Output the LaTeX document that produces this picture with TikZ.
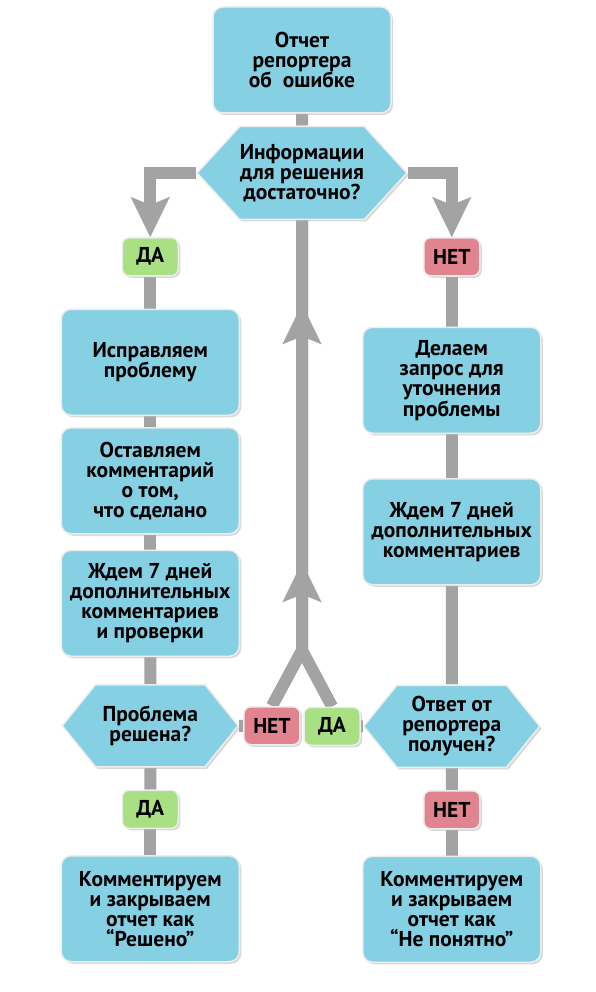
\documentclass[tikz,border=0pt]{standalone}
\usepackage{fontspec}
\setmainfont{PT Sans}
\usetikzlibrary{shapes.symbols, arrows.meta, positioning, calc, backgrounds, shadows, decorations.markings}

\definecolor{boxblue}{HTML}{86D0E3}
\definecolor{yesgreen}{HTML}{A8E083}
\definecolor{nored}{HTML}{E2848F}
\definecolor{linegray}{HTML}{A3A3A3}
\definecolor{rimgray}{HTML}{EDEDED}

\begin{document}
\begin{tikzpicture}[
    x=1pt, y=1pt,
    node distance=15pt,
    txt/.style={font=\fontsize{21.5}{20}\selectfont\bfseries, align=center},
    box/.style={
        txt, rectangle, draw=rimgray, line width=1.5pt, fill=boxblue,
        rounded corners=10pt, minimum width=178pt, minimum height=106pt,
        drop shadow={shadow xshift=2pt, shadow yshift=-2pt, fill=black!30}
    },
    ask/.style={
        txt, signal, signal to=west and east, signal pointer angle=#1,
        draw=rimgray, line width=1.5pt, fill=boxblue, inner sep=0pt,
        drop shadow={shadow xshift=2pt, shadow yshift=-2pt, fill=black!30}
    },
    ask/.default=102,
    tag/.style={
        txt, rectangle, draw=rimgray, line width=1.5pt, fill=#1,
        rounded corners=7pt, minimum width=56pt, minimum height=38pt,
        drop shadow={shadow xshift=2pt, shadow yshift=-2pt, fill=black!30}
    },
    tag/.default=yesgreen,
    flow/.style={draw=linegray, line width=12pt},
    tip/.style={-{Stealth[length=40pt, width=39pt, inset=8pt, line width=0.1pt]}},
    upmarks/.style={
        postaction={decorate},
        decoration={markings,
            mark=at position -342pt with {\arrow{Stealth[length=40pt, width=39pt, inset=8pt, line width=0.1pt]}},
            mark=at position -84pt with {\arrow{Stealth[length=40pt, width=39pt, inset=8pt, line width=0.1pt]}}}
    }
]
    \useasboundingbox (0,0) rectangle (595,-992);

    %% --- Top ---
    \node[box] (report) at (302,-60) {Отчет\\репортера\\об~~ошибке};
    \node[ask=95, minimum width=203pt, minimum height=93pt, below=12pt of report] (enough)
        {Информации\\для решения\\достаточно?};

    %% --- Left: problem is fixed ---
    \node[tag=yesgreen, below left=64pt and 123pt of enough.center] (yesA) {ДА};
    \node[box, below=32pt of yesA] (fix) {Исправляем\\проблему};
    \node[box, below=11pt of fix] (note) {Оставляем\\комментарий\\о том,\\что сделано};
    \node[box, below=15pt of note] (waitA) {Ждем 7 дней\\дополнительных\\комментариев\\и проверки};
    \node[ask, minimum width=176pt, minimum height=82pt, below=27pt of waitA] (solved) {Проблема\\решена?};
    \node[tag=yesgreen, below=22pt of solved] (yesB) {ДА};
    \node[box, below=26pt of yesB] (closeA) {Комментируем\\и закрываем\\отчет как\\“Решено”};

    %% --- Right: more info needed ---
    \node[tag=nored, below right=64pt and 121pt of enough.center] (noA) {НЕТ};
    \node[box, below=50pt of noA] (query) {Делаем\\запрос для\\уточнения\\проблемы};
    \node[box, below=44pt of query] (waitB) {Ждем 7 дней\\дополнительных\\комментариев};
    \node[ask, minimum width=176pt, minimum height=82pt, below=99pt of waitB] (answer) {Ответ от\\репортера\\получен?};
    \node[tag=nored, below=22pt of answer] (noB) {НЕТ};
    \node[box, below=26pt of noB] (closeB) {Комментируем\\и закрываем\\отчет как\\“Не понятно”};

    %% --- Middle: back to the question ---
    \node[tag=nored, right=4pt of solved] (noC) {НЕТ};
    \node[tag=yesgreen, left=2pt of answer] (yesC) {ДА};
    \coordinate (fork) at ($(enough.south)+(0,-430)$);

    %% --- Connectors ---
    \begin{scope}[on background layer]
        \draw[flow] (report) -- (enough);
        \draw[flow, tip] (enough.west) -| (yesA.north);
        \draw[flow, tip] (enough.east) -| (noA.north);
        \draw[flow] (yesA) -- (fix);
        \draw[flow] (fix) -- (note);
        \draw[flow] (note) -- (waitA);
        \draw[flow] (waitA) -- (solved);
        \draw[flow] (solved) -- (yesB);
        \draw[flow] (yesB) -- (closeA);
        \draw[flow] (noA) -- (query);
        \draw[flow] (query) -- (waitB);
        \draw[flow] (waitB) -- (answer);
        \draw[flow] (answer) -- (noB);
        \draw[flow] (noB) -- (closeB);
        \draw[flow] (solved) -- (noC);
        \draw[flow] (yesC) -- (answer);
        \draw[flow] (yesC.north) -- (fork) -- (enough.south);
        \draw[flow, upmarks] (noC.north) -- (fork) -- (enough.south);
    \end{scope}
\end{tikzpicture}
\end{document}
